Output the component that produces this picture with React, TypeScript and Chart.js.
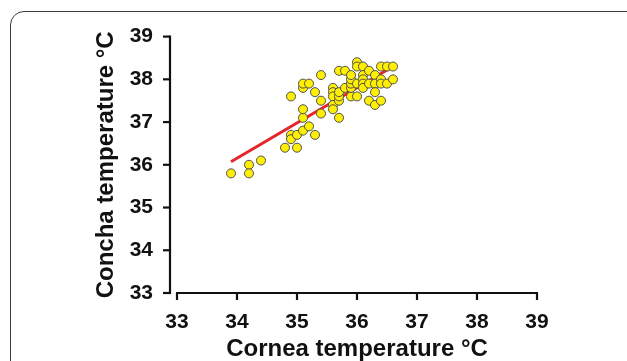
import React, { useEffect, useRef } from "react";
import { Chart, registerables } from "chart.js";

Chart.register(...registerables);

// Cornea (x) and Concha (y) temperatures, °C
const corneaTemp: number[] = [
  33.9, 34.2, 34.2, 34.4, 34.8, 35.0, 34.9, 34.9, 35.0, 35.1,
  35.2, 35.3, 35.1, 35.1, 34.9, 35.1, 35.1, 35.2, 35.3, 35.4,
  35.4, 35.4, 35.6, 35.6, 35.6, 35.6, 35.6, 35.7, 35.7, 35.7,
  35.7, 35.7, 35.8, 35.8, 35.9, 35.9, 35.9, 35.9, 35.9, 36.0,
  36.0, 36.0, 36.0, 36.1, 36.1, 36.1, 36.1, 36.1, 36.2, 36.2,
  36.2, 36.3, 36.3, 36.3, 36.3, 36.4, 36.4, 36.4, 36.4, 36.5,
  36.5, 36.6, 36.6,
];
const conchaTemp: number[] = [
  35.8, 36.0, 35.8, 36.1, 36.4, 36.4, 36.7, 36.6, 36.7, 36.8,
  36.9, 36.7, 37.1, 37.3, 37.6, 37.8, 37.9, 37.9, 37.7, 38.1,
  37.5, 37.2, 37.8, 37.7, 37.6, 37.4, 37.3, 37.1, 37.5, 37.6,
  37.7, 38.2, 38.2, 37.8, 37.6, 37.8, 37.9, 38.0, 38.1, 38.4,
  38.3, 37.9, 37.6, 38.3, 38.1, 38.0, 37.9, 37.8, 38.2, 37.9,
  37.5, 38.1, 37.9, 37.7, 37.4, 38.3, 38.0, 37.9, 37.5, 38.3,
  37.9, 38.3, 38.0,
];
// Regression line end points
const fitX: number[] = [33.9, 36.6];
const fitY: number[] = [36.07, 38.3];

const xTicks: number[] = [33, 34, 35, 36, 37, 38, 39];
const yTicks: number[] = [33, 34, 35, 36, 37, 38, 39];

const xTitle = "Cornea temperature °C";
const yTitle = "Concha temperature °C";

const FONT = "'Liberation Sans', Arial, Helvetica, sans-serif";

export default function App() {
  const ref = useRef<HTMLCanvasElement | null>(null);

  useEffect(() => {
    if (!ref.current) return;
    const axesPlugin = {
      id: "customAxes",
      afterDraw(chart: any) {
        const { ctx } = chart;
        const xs = chart.scales.x;
        const ys = chart.scales.y;
        const gap = 7;
        const tl = 7;
        const yAxisX = chart.chartArea.left - gap;
        const xAxisY = ys.getPixelForValue(yTicks[0]);
        ctx.save();
        ctx.strokeStyle = "#111";
        ctx.lineWidth = 2.2;
        ctx.lineCap = "butt";
        // y axis
        ctx.beginPath();
        ctx.moveTo(yAxisX, ys.getPixelForValue(yTicks[yTicks.length - 1]) - 1);
        ctx.lineTo(yAxisX, ys.getPixelForValue(yTicks[0]) + 1);
        ctx.stroke();
        yTicks.forEach((v) => {
          const p = ys.getPixelForValue(v);
          ctx.beginPath();
          ctx.moveTo(yAxisX - tl, p);
          ctx.lineTo(yAxisX, p);
          ctx.stroke();
        });
        // x axis
        ctx.beginPath();
        ctx.moveTo(xs.getPixelForValue(xTicks[0]) - 1, xAxisY);
        ctx.lineTo(xs.getPixelForValue(xTicks[xTicks.length - 1]) + 1, xAxisY);
        ctx.stroke();
        xTicks.forEach((v) => {
          const p = xs.getPixelForValue(v);
          ctx.beginPath();
          ctx.moveTo(p, xAxisY);
          ctx.lineTo(p, xAxisY + tl);
          ctx.stroke();
        });
        ctx.restore();
      },
    };

    const chart = new Chart(ref.current, {
      type: "scatter",
      data: {
        datasets: [
          {
            label: "points",
            data: corneaTemp.map((x, i) => ({ x, y: conchaTemp[i] })),
            backgroundColor: "#FFEF00",
            borderColor: "#505050",
            borderWidth: 1,
            pointRadius: 4.5,
            pointHoverRadius: 4.5,
          },
          {
            label: "fit",
            type: "line",
            data: fitX.map((x, i) => ({ x, y: fitY[i] })),
            borderColor: "#E5262A",
            borderWidth: 3,
            pointRadius: 0,
            fill: false,
          } as any,
        ],
      },
      options: {
        responsive: false,
        animation: false,
        events: [],
        layout: { padding: { left: 94, right: 90, top: 34, bottom: 0 } },
        plugins: { legend: { display: false }, tooltip: { enabled: false } },
        scales: {
          x: {
            type: "linear",
            min: 33,
            max: 39,
            afterBuildTicks: (s: any) => {
              s.ticks = xTicks.map((v) => ({ value: v }));
            },
            afterFit: (s: any) => {
              s.height = 68;
            },
            grid: { display: false, drawTicks: false },
            border: { display: false },
            ticks: {
              color: "#111",
              padding: 17,
              font: { family: FONT, size: 21, weight: "bold" },
            },
            title: {
              display: true,
              text: xTitle,
              color: "#111",
              padding: 0,
              font: { family: FONT, size: 24, weight: "bold", lineHeight: 1 },
            },
          },
          y: {
            type: "linear",
            min: 33,
            max: 39,
            afterBuildTicks: (s: any) => {
              s.ticks = yTicks.map((v) => ({ value: v }));
            },
            afterFit: (s: any) => {
              s.width = 83;
            },
            grid: { display: false, drawTicks: false },
            border: { display: false },
            ticks: {
              color: "#111",
              padding: 24,
              font: { family: FONT, size: 21, weight: "bold" },
            },
            title: {
              display: true,
              text: yTitle,
              color: "#111",
              padding: 0,
              font: { family: FONT, size: 24, weight: "bold", lineHeight: 1 },
            },
          },
        },
      },
      plugins: [axesPlugin],
    } as any);
    return () => chart.destroy();
  }, []);

  return (
    <div
      style={{
        position: "fixed",
        left: 0,
        top: 0,
        width: 627,
        height: 361,
        overflow: "hidden",
        background: "#fff",
      }}
    >
      <div
        style={{
          position: "absolute",
          left: 10,
          top: 11,
          width: 660,
          height: 420,
          border: "1px solid #3a3a3a",
          borderRadius: 14,
          boxSizing: "border-box",
        }}
      />
      <canvas
        ref={ref}
        width={627}
        height={361}
        style={{ position: "absolute", left: 0, top: 0, width: 627, height: 361 }}
      />
    </div>
  );
}
